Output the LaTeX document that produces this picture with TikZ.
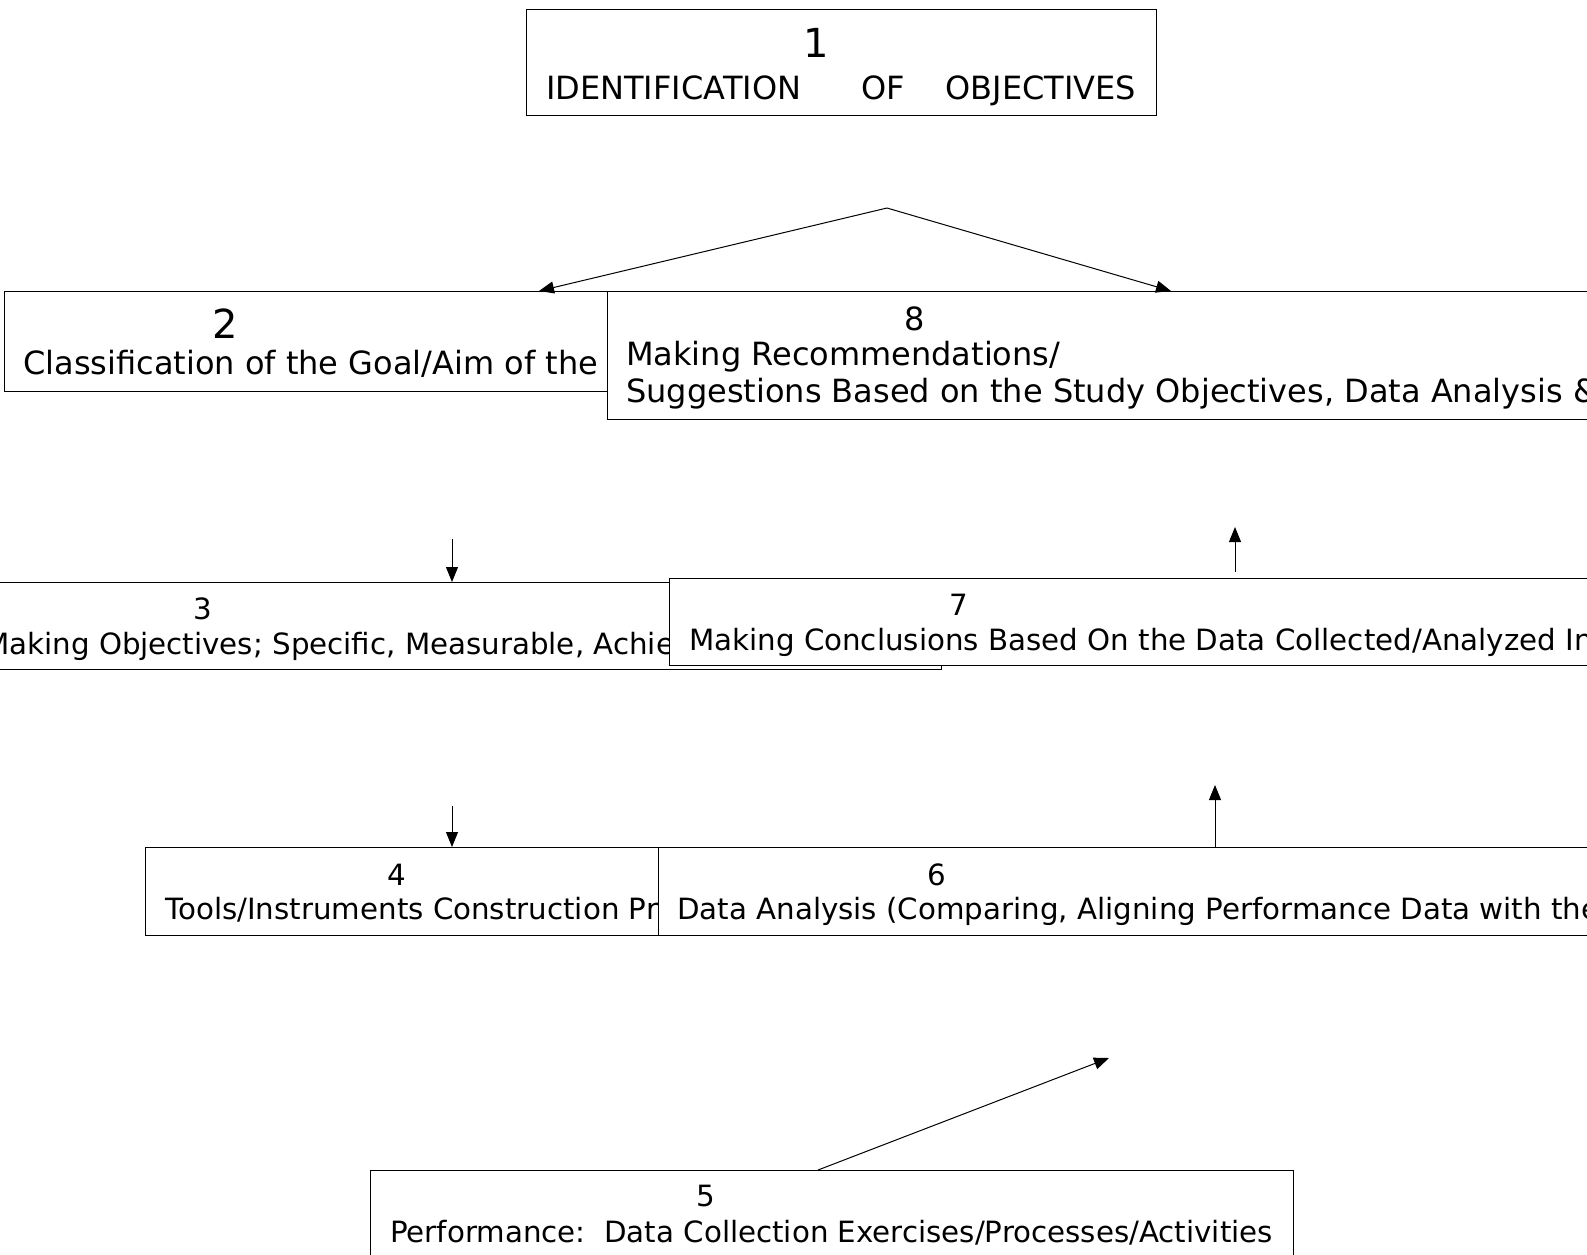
\documentclass[tikz,border=0pt]{standalone}
\usepackage{fontspec}
\setmainfont{DejaVu Sans}
\usetikzlibrary{arrows.meta}

\tikzset{
  stagebox/.style={draw, fill=white, line width=1.2pt, anchor=north west, inner sep=0pt},
  stagenum/.style={anchor=base, inner sep=0pt, font=\fontsize{29.3}{35}\selectfont},
  bignum/.style={anchor=base, inner sep=0pt, font=\fontsize{40}{48}\selectfont},
  stagetext/.style={anchor=base west, inner sep=0pt, font=\fontsize{29.3}{35}\selectfont},
  bigtext/.style={anchor=base west, inner sep=0pt, font=\fontsize{32}{38}\selectfont},
  flow/.style={line width=1pt, -{Triangle[length=15pt,width=12pt]}}
}

\begin{document}
\begin{tikzpicture}[x=1pt,y=-1pt]
\useasboundingbox (0,0) rectangle (1587,1254);
\clip (0,0) rectangle (1587,1254);

% stage 1
\node[stagebox, minimum width=630pt, minimum height=106pt] (b1) at (526,9) {};
\node[bignum] (n1) at (816,57) {1};
\node[bigtext] (t1) at (546,99) {IDENTIFICATION\hspace*{60pt}OF\hspace*{41pt}OBJECTIVES};

% stage 2 and 8
\node[stagebox, minimum width=700pt, minimum height=100pt] (b2) at (4,291) {};
\node[bignum] (n2) at (225,338) {2};
\node[bigtext] (t2) at (23,374) {Classification of the Goal/Aim of the};

\node[stagebox, minimum width=1000pt, minimum height=128pt] (b8) at (607,291) {};
\node[bigtext, anchor=base] (n8) at (915,330) {8};
\node[bigtext] (t8a) at (626,365) {Making Recommendations/};
\node[bigtext] (t8b) at (626,402) {Suggestions Based on the Study Objectives, Data Analysis \&};

% stage 3 and 7
\node[stagebox, minimum width=951pt, minimum height=87pt] (b3) at (-10,582) {};
\node[stagenum] (n3) at (203,619) {3};
\node[stagetext] (t3) at (-16,654) {Making Objectives; Specific, Measurable, Achie};

\node[stagebox, minimum width=940pt, minimum height=87pt] (b7) at (669,578) {};
\node[stagenum] (n7) at (959,615) {7};
\node[stagetext] (t7) at (689,650) {Making Conclusions Based On the Data Collected/Analyzed In};

% stage 4 and 6
\node[stagebox, minimum width=555pt, minimum height=88pt] (b4) at (145,847) {};
\node[stagenum] (n4) at (397,885) {4};
\node[stagetext] (t4) at (165,919) {Tools/Instruments Construction Pr};

\node[stagebox, minimum width=950pt, minimum height=88pt] (b6) at (658,847) {};
\node[stagenum] (n6) at (937,885) {6};
\node[stagetext] (t6) at (677,919) {Data Analysis (Comparing, Aligning Performance Data with the};

% stage 5
\node[stagebox, minimum width=923pt, minimum height=100pt] (b5) at (370,1170) {};
\node[stagenum] (n5) at (706,1206) {5};
\node[stagetext] (t5) at (390,1242) {Performance:\ \ Data Collection Exercises/Processes/Activities};

% arrows
\coordinate (apex) at (887,208);
\coordinate (tipL) at (539,291);
\coordinate (tipR) at (1171,291);
\draw[flow] (apex) -- (tipL |- b2.north);
\draw[flow] (apex) -- (tipR |- b8.north);

\coordinate (d23) at (452,539);
\draw[flow] (d23) -- (d23 |- b3.north);

\coordinate (d34) at (452,806);
\draw[flow] (d34) -- (d34 |- b4.north);

\coordinate (s56) at (818,1170);
\coordinate (u56) at (1109,1058);
\draw[flow] (s56 |- b5.north) -- (u56);

\coordinate (u67) at (1215,785);
\draw[flow] (u67 |- b6.north) -- (u67);

\coordinate (s78) at (1235,572);
\coordinate (u78) at (1235,527);
\draw[flow] (s78) -- (u78);

\end{tikzpicture}
\end{document}
